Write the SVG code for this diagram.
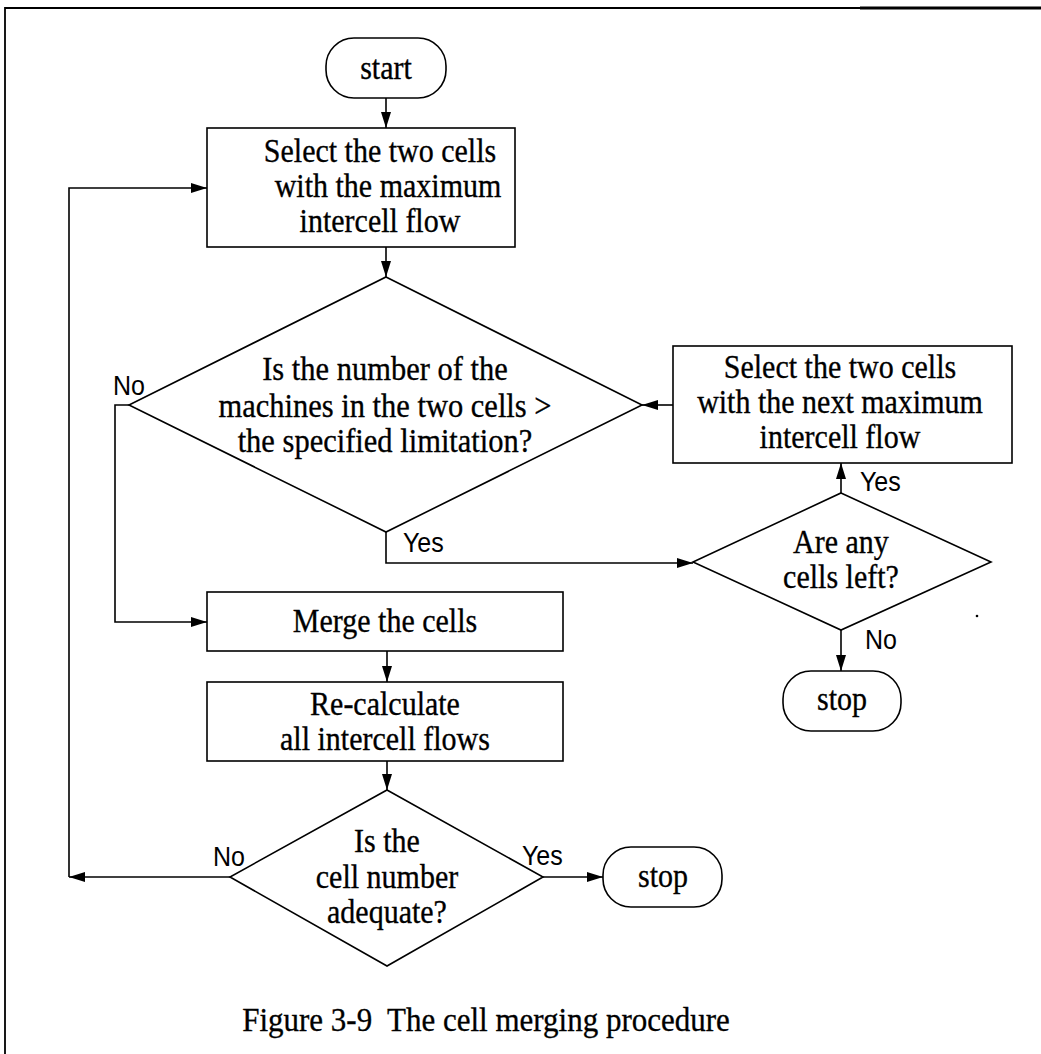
<svg xmlns="http://www.w3.org/2000/svg" width="1041" height="1054" viewBox="0 0 1041 1054">
<style>
.s{fill:none;stroke:#000;stroke-width:1.6}
.c{fill:none;stroke:#000;stroke-width:1.6}
.t{font-family:"Liberation Serif","Times New Roman",serif;font-size:30px;fill:#000;stroke:#000;stroke-width:0.3;text-anchor:middle;transform:scaleY(1.12);transform-box:fill-box;transform-origin:50% 78%}
.l{font-family:"Liberation Sans",Arial,sans-serif;font-size:25px;fill:#000;transform:scaleY(1.08);transform-box:fill-box;transform-origin:50% 100%}
</style>
<defs>
<marker id="ah" viewBox="0 0 16 10" refX="16" refY="5" markerWidth="16" markerHeight="10" markerUnits="userSpaceOnUse" orient="auto">
<path d="M0,0 L16,5 L0,10 Z" fill="#000"/>
</marker>
</defs>
<rect width="1041" height="1054" fill="#fff"/>
<path d="M5,1054 V8 H1041" fill="none" stroke="#000" stroke-width="1.8"/>
<path d="M860,8 H1041" fill="none" stroke="#000" stroke-width="3"/>

<g id="connectors">
<path class="c" d="M386,98 V128" marker-end="url(#ah)"/>
<path class="c" d="M386,247 V277" marker-end="url(#ah)"/>
<path class="c" d="M129,405 H115 V622 H207" marker-end="url(#ah)"/>
<path class="c" d="M386,532 V563 H693" marker-end="url(#ah)"/>
<path class="c" d="M673,405 H642" marker-end="url(#ah)"/>
<path class="c" d="M841,493 V463" marker-end="url(#ah)"/>
<path class="c" d="M841,630 V671" marker-end="url(#ah)"/>
<path class="c" d="M387,651 V682" marker-end="url(#ah)"/>
<path class="c" d="M387,761 V790" marker-end="url(#ah)"/>
<path class="c" d="M543,877 H603" marker-end="url(#ah)"/>
<path class="c" d="M230,877 H69" marker-end="url(#ah)"/>
<path class="c" d="M69,877 V188 H207" marker-end="url(#ah)"/>
</g>
<g id="start">
<rect class="s" x="326" y="38" width="120" height="60" rx="28"/>
<text class="t" x="386" y="79">start</text>
</g>
<g id="select1">
<rect class="s" x="207" y="128" width="308" height="119"/>
<text class="t" x="380" y="162">Select the two cells</text>
<text class="t" x="388" y="197">with the maximum</text>
<text class="t" x="380" y="232">intercell flow</text>
</g>
<g id="check-limit">
<polygon class="s" points="386,277 642,405 386,532 129,405"/>
<text class="t" x="385" y="380" style="font-size:30.5px">Is the number of the</text>
<text class="t" x="385" y="417" style="font-size:30.5px">machines in the two cells &gt;</text>
<text class="t" x="385" y="452" style="font-size:30.5px">the specified limitation?</text>
<text class="l" x="113" y="395">No</text>
<text class="l" x="403" y="552">Yes</text>
</g>
<g id="select-next">
<rect class="s" x="673" y="346" width="339" height="117"/>
<text class="t" x="840" y="378">Select the two cells</text>
<text class="t" x="840" y="413">with the next maximum</text>
<text class="t" x="840" y="448">intercell flow</text>
</g>
<g id="cells-left">
<polygon class="s" points="841,493 991,562 841,630 693,562"/>
<text class="t" x="841" y="553">Are any</text>
<text class="t" x="841" y="588">cells left?</text>
<text class="l" x="860" y="491">Yes</text>
<text class="l" x="865" y="649">No</text>
</g>
<g id="stop2">
<rect class="s" x="783" y="671" width="118" height="60" rx="28"/>
<text class="t" x="842" y="710">stop</text>
</g>
<circle cx="977" cy="616" r="1.3" fill="#000"/>
<g id="merge">
<rect class="s" x="207" y="592" width="356" height="59"/>
<text class="t" x="385" y="632">Merge the cells</text>
</g>
<g id="recalc">
<rect class="s" x="207" y="682" width="356" height="79"/>
<text class="t" x="385" y="715">Re-calculate</text>
<text class="t" x="385" y="750">all intercell flows</text>
</g>
<g id="check-number">
<polygon class="s" points="387,790 543,877 387,966 230,877"/>
<text class="t" x="387" y="852">Is the</text>
<text class="t" x="387" y="888">cell number</text>
<text class="t" x="387" y="923">adequate?</text>
<text class="l" x="213" y="866">No</text>
<text class="l" x="522" y="865">Yes</text>
</g>
<g id="stop1">
<rect class="s" x="603" y="847" width="119" height="60" rx="28"/>
<text class="t" x="663" y="887">stop</text>
</g>
<text class="t" x="486" y="1031" style="font-size:31px;white-space:pre">Figure 3-9  The cell merging procedure</text>
</svg>
